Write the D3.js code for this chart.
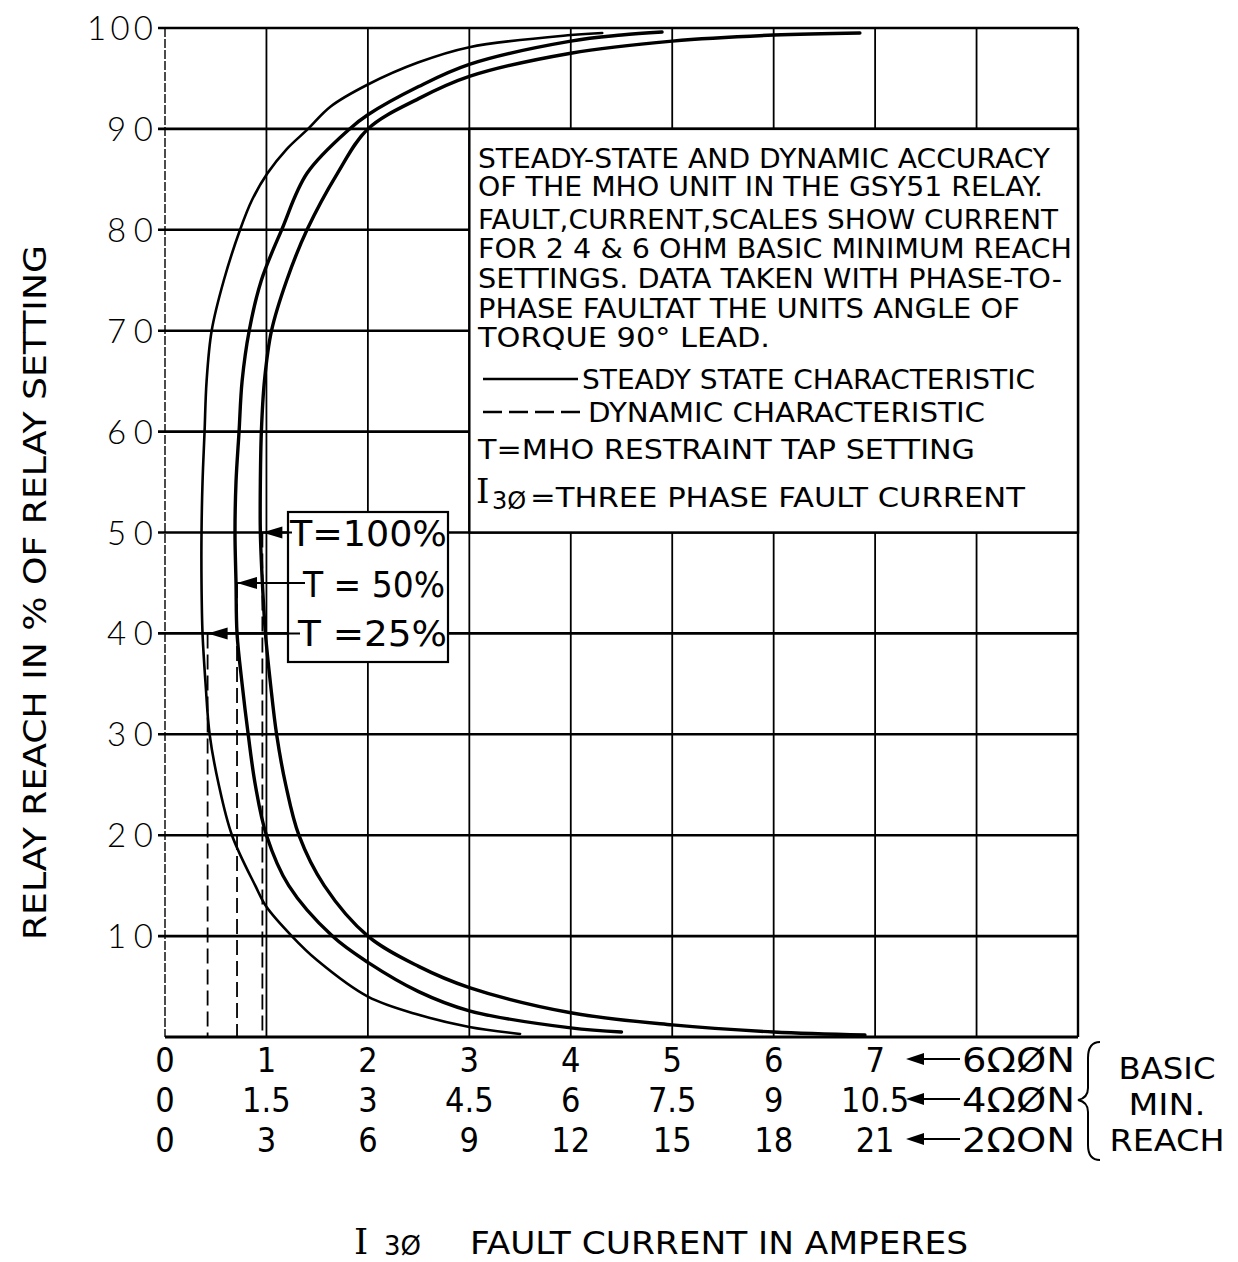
<!DOCTYPE html>
<html>
<head>
<meta charset="utf-8">
<script src="https://cdn.jsdelivr.net/npm/d3@7"></script>
<style>
  body { margin: 0; background: #fff; }
  svg { display: block; }
  text { fill: #000; font-family: "DejaVu Sans", sans-serif; }
</style>
</head>
<body>
<svg id="chart" width="1238" height="1262"></svg>
<script>
// relay reach (% of setting) ticks
const reachTicks = [10, 20, 30, 40, 50, 60, 70, 80, 90, 100];
// fault current scales, one row per basic minimum reach setting
const ampTicks = [0, 1, 2, 3, 4, 5, 6, 7];
const ampLabels6 = ['0', '1', '2', '3', '4', '5', '6', '7'];
const ampLabels4 = ['0', '1.5', '3', '4.5', '6', '7.5', '9', '10.5'];
const ampLabels2 = ['0', '3', '6', '9', '12', '15', '18', '21'];
const scaleNames = ['6\u03A9\u00D8N', '4\u03A9\u00D8N', '2\u03A9ON'];

// steady state characteristic, [current on 6 ohm scale, reach %]
const steadyT25 = [[4.31, 99.5], [4.0, 99.3], [3.0, 98.1], [2.5, 96.6], [2.0, 94.4], [1.63, 92.2], [1.41, 90],
  [1.2, 88], [1.01, 85.6], [0.86, 83], [0.74, 80], [0.58, 75], [0.46, 70], [0.41, 65],
  [0.39, 60], [0.37, 55], [0.36, 50], [0.36, 45], [0.37, 40], [0.40, 35], [0.44, 30], [0.53, 25],
  [0.66, 20], [0.89, 15], [1.0, 12.9], [1.25, 10], [1.5, 7.6], [2.0, 4.0], [2.5, 2.2], [3.0, 1.0], [3.5, 0.3]];
const steadyT50 = [[4.9, 99.6], [4.5, 99.3], [4.0, 98.7], [3.0, 96.4], [2.5, 94.2], [2.0, 91.4], [1.82, 90],
  [1.40, 85.6], [1.15, 80], [0.95, 75], [0.83, 70], [0.76, 65], [0.73, 60], [0.70, 55], [0.69, 50],
  [0.70, 45], [0.71, 40], [0.76, 35], [0.82, 30], [0.89, 25], [1.0, 20], [1.22, 15], [1.65, 10],
  [2.0, 7.4], [2.5, 4.5], [3.0, 2.6], [4.0, 0.9], [4.5, 0.5]];
const steadyT100 = [[6.85, 99.5], [6.0, 99.3], [5.0, 98.7], [4.0, 97.5], [3.0, 95.2], [2.5, 93.0], [2.0, 90],
  [1.70, 85.6], [1.40, 80], [1.2, 75], [1.05, 70], [0.98, 65], [0.95, 60], [0.94, 55], [0.94, 50],
  [0.96, 45], [0.99, 40], [1.04, 35], [1.10, 30], [1.19, 25], [1.32, 20], [1.57, 15], [2.0, 10],
  [2.5, 7.0], [3.0, 4.9], [4.0, 2.4], [5.0, 1.2], [6.0, 0.5], [6.9, 0.2]];

// dynamic characteristic (vertical dashed), and tap labels
const tapLabels = ['T=100%', 'T = 50%', 'T =25%'];
const tapReach = [50, 45, 40];
const dynamicCurrent = [0.96, 0.71, 0.42];

const noteLines = [
  'STEADY-STATE AND DYNAMIC ACCURACY',
  'OF THE MHO UNIT IN THE GSY51 RELAY.',
  'FAULT,CURRENT,SCALES SHOW CURRENT',
  'FOR 2 4 & 6 OHM BASIC MINIMUM REACH',
  'SETTINGS. DATA TAKEN WITH PHASE-TO-',
  'PHASE FAULTAT THE UNITS ANGLE OF',
  'TORQUE 90\u00B0 LEAD.'
];

const svg = d3.select('#chart');
const x = d3.scaleLinear().domain([0, 9]).range([165, 1078]);
const y = d3.scaleLinear().domain([0, 100]).range([1037, 28]);

// grid
const grid = svg.append('g');
grid.selectAll('.vg')
  .data(d3.range(1, 9))
  .enter().append('line')
  .attr('x1', d => x(d)).attr('x2', d => x(d))
  .attr('y1', y(100)).attr('y2', y(0))
  .attr('stroke', '#000').attr('stroke-width', 1.8);
grid.selectAll('.hg')
  .data(reachTicks)
  .enter().append('line')
  .attr('x1', x(0) - 7).attr('x2', x(9))
  .attr('y1', d => y(d)).attr('y2', d => y(d))
  .attr('stroke', '#000').attr('stroke-width', 2.6);
grid.append('line')
  .attr('x1', x(0)).attr('x2', x(0)).attr('y1', y(100)).attr('y2', y(0))
  .attr('stroke', '#000').attr('stroke-width', 1.4).attr('stroke-dasharray', '9,2');
grid.append('line')
  .attr('x1', x(9)).attr('x2', x(9)).attr('y1', y(100)).attr('y2', y(0))
  .attr('stroke', '#000').attr('stroke-width', 2.4);
grid.append('line')
  .attr('x1', x(0)).attr('x2', x(9)).attr('y1', y(0)).attr('y2', y(0))
  .attr('stroke', '#000').attr('stroke-width', 3);

// note box
svg.append('rect')
  .attr('x', x(3)).attr('y', y(90))
  .attr('width', x(9) - x(3)).attr('height', y(50) - y(90))
  .attr('fill', '#fff').attr('stroke', '#000').attr('stroke-width', 2.4);

const noteBase = [168, 196, 229, 258, 288, 318, 347];
const noteWidth = [572, 565, 580, 594, 584, 542, 292];
svg.selectAll('.note')
  .data(noteLines)
  .enter().append('text')
  .attr('x', 478)
  .attr('y', (d, i) => noteBase[i])
  .attr('font-size', 26)
  .attr('textLength', (d, i) => noteWidth[i])
  .attr('lengthAdjust', 'spacingAndGlyphs')
  .text(d => d);

svg.append('line')
  .attr('x1', 483).attr('x2', 578).attr('y1', 379).attr('y2', 379)
  .attr('stroke', '#000').attr('stroke-width', 2.6);
svg.append('text').attr('x', 582).attr('y', 389).attr('font-size', 27)
  .attr('textLength', 453).attr('lengthAdjust', 'spacingAndGlyphs')
  .text('STEADY STATE CHARACTERISTIC');
svg.append('line')
  .attr('x1', 483).attr('x2', 585).attr('y1', 412).attr('y2', 412)
  .attr('stroke', '#000').attr('stroke-width', 2.6).attr('stroke-dasharray', '19,7');
svg.append('text').attr('x', 588).attr('y', 422).attr('font-size', 27)
  .attr('textLength', 397).attr('lengthAdjust', 'spacingAndGlyphs')
  .text('DYNAMIC CHARACTERISTIC');
svg.append('text').attr('x', 478).attr('y', 459).attr('font-size', 27)
  .attr('textLength', 497).attr('lengthAdjust', 'spacingAndGlyphs')
  .text('T=MHO RESTRAINT TAP SETTING');
svg.append('text').attr('x', 476).attr('y', 503).attr('font-size', 34)
  .style('font-family', '"DejaVu Serif", serif')
  .text('I');
svg.append('text').attr('x', 492).attr('y', 509).attr('font-size', 24)
  .text('3\u00D8');
svg.append('text').attr('x', 530).attr('y', 507).attr('font-size', 27)
  .attr('textLength', 495).attr('lengthAdjust', 'spacingAndGlyphs')
  .text('=THREE PHASE FAULT CURRENT');

// steady state curves
const line = d3.line()
  .x(d => x(d[0]))
  .y(d => y(d[1]))
  .curve(d3.curveCatmullRom.alpha(0.5));

[[steadyT25, 2.6], [steadyT50, 3.4], [steadyT100, 3.4]].forEach(([pts, w]) => {
  svg.append('path')
    .datum(pts)
    .attr('fill', 'none')
    .attr('stroke', '#000')
    .attr('stroke-width', w)
    .attr('stroke-linecap', 'round')
    .attr('stroke-linejoin', 'round')
    .attr('d', line);
});

// dynamic characteristic
svg.selectAll('.dyn')
  .data(dynamicCurrent)
  .enter().append('line')
  .attr('x1', d => x(d)).attr('x2', d => x(d))
  .attr('y1', (d, i) => y(tapReach[i])).attr('y2', y(0))
  .attr('stroke', '#000').attr('stroke-width', 1.8)
  .attr('stroke-dasharray', '15,6');

// tap label box
const boxL = 288, boxR = 448, boxT = 512, boxB = 662;
svg.append('rect')
  .attr('x', boxL).attr('y', boxT)
  .attr('width', boxR - boxL).attr('height', boxB - boxT)
  .attr('fill', '#fff').attr('stroke', '#000').attr('stroke-width', 2.2);

const tapTextX = [290, 303, 298];
const tapTextW = [157, 142, 149];
const tapBase = [546, 597, 646];
tapLabels.forEach((t, i) => {
  const tip = x(dynamicCurrent[i]);
  const ry = y(tapReach[i]);
  svg.append('line')
    .attr('x1', tip).attr('x2', tapTextX[i] + 2)
    .attr('y1', ry).attr('y2', ry)
    .attr('stroke', '#000').attr('stroke-width', 2);
  svg.append('path')
    .attr('d', `M${tip},${ry} L${tip + 20},${ry - 6} L${tip + 20},${ry + 6} Z`)
    .attr('fill', '#000');
  svg.append('text')
    .attr('x', tapTextX[i]).attr('y', tapBase[i])
    .attr('font-size', 35)
    .attr('textLength', tapTextW[i]).attr('lengthAdjust', 'spacingAndGlyphs')
    .text(t);
});

// y tick labels
svg.selectAll('.ylab')
  .data(reachTicks)
  .enter().append('text')
  .attr('x', 153)
  .attr('y', d => y(d) + 12)
  .attr('text-anchor', 'end')
  .attr('font-size', 33)
  .attr('font-weight', 300)
  .style('font-family', 'Lato, "DejaVu Sans", sans-serif')
  .attr('textLength', d => d === 100 ? 66 : 46)
  .attr('lengthAdjust', 'spacing')
  .text(d => d);

// y title
svg.append('text')
  .attr('transform', `translate(46,${(245 + 940) / 2}) rotate(-90)`)
  .attr('text-anchor', 'middle')
  .attr('font-size', 32)
  .attr('textLength', 695).attr('lengthAdjust', 'spacingAndGlyphs')
  .text('RELAY REACH IN % OF RELAY SETTING');

// x tick label rows
const rowBase = [1072, 1112, 1152];
[ampLabels6, ampLabels4, ampLabels2].forEach((labels, r) => {
  svg.selectAll('.xl' + r)
    .data(labels)
    .enter().append('text')
    .attr('x', (d, i) => x(ampTicks[i]))
    .attr('y', rowBase[r])
    .attr('text-anchor', 'middle')
    .attr('font-size', 34)
    .style('font-stretch', 'condensed')
    .text(d => d);

  const ay = rowBase[r] - 13;
  svg.append('line')
    .attr('x1', 918).attr('x2', 960).attr('y1', ay).attr('y2', ay)
    .attr('stroke', '#000').attr('stroke-width', 2.2);
  svg.append('path')
    .attr('d', `M906,${ay} L924,${ay - 6} L924,${ay + 6} Z`)
    .attr('fill', '#000');
  svg.append('text')
    .attr('x', 962).attr('y', rowBase[r])
    .attr('font-size', 34)
    .attr('textLength', 113).attr('lengthAdjust', 'spacingAndGlyphs')
    .text(scaleNames[r]);
});

// brace and setting label
svg.append('path')
  .attr('d', 'M1100,1042 Q1088,1042 1088,1058 L1088,1088 Q1088,1098 1078,1100 Q1088,1102 1088,1112 L1088,1145 Q1088,1160 1100,1160')
  .attr('fill', 'none').attr('stroke', '#000').attr('stroke-width', 2);
const braceText = ['BASIC', 'MIN.', 'REACH'];
const braceW = [97, 77, 115];
braceText.forEach((t, i) => {
  svg.append('text')
    .attr('x', 1167).attr('y', [1079, 1115, 1151][i])
    .attr('text-anchor', 'middle')
    .attr('font-size', 30)
    .attr('textLength', braceW[i]).attr('lengthAdjust', 'spacingAndGlyphs')
    .text(t);
});

// x title
svg.append('text').attr('x', 354).attr('y', 1254).attr('font-size', 36)
  .style('font-family', '"DejaVu Serif", serif')
  .text('I');
svg.append('text').attr('x', 384).attr('y', 1255).attr('font-size', 26)
  .text('3\u00D8');
svg.append('text').attr('x', 470).attr('y', 1254).attr('font-size', 32)
  .attr('textLength', 498).attr('lengthAdjust', 'spacingAndGlyphs')
  .text('FAULT CURRENT IN AMPERES');
</script>
</body>
</html>
